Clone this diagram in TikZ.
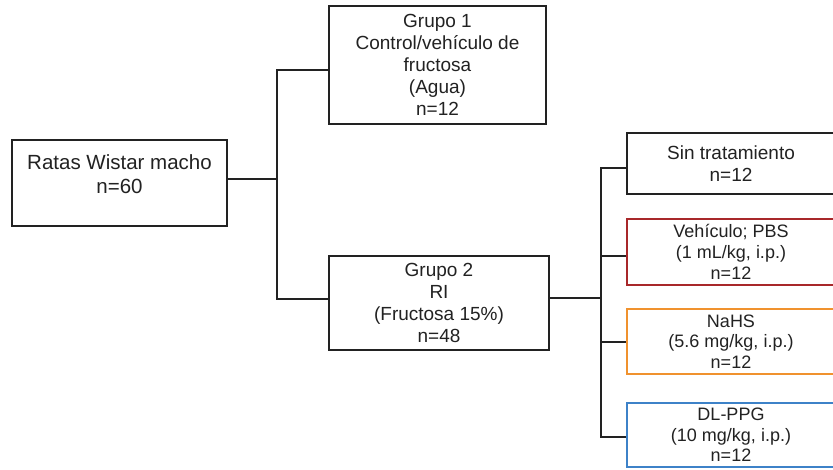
\documentclass[tikz,border=0pt]{standalone}
\usepackage{fontspec}
\setmainfont{Liberation Sans}
\definecolor{ink}{HTML}{222222}
\definecolor{redb}{HTML}{A8282A}
\definecolor{orab}{HTML}{F0922E}
\definecolor{blub}{HTML}{3D82C8}
\begin{document}
\begin{tikzpicture}[x=1pt,y=-1pt,
  box/.style={draw=ink, line width=2.6pt, rectangle, inner sep=0pt, align=center, text=ink},
  big/.style={font=\fontsize{20.5}{24}\selectfont},
  mid/.style={font=\fontsize{19}{22}\selectfont},
  sml/.style={font=\fontsize{18}{20.7}\selectfont},
  conn/.style={draw=ink, line width=2.6pt}]
\useasboundingbox (0,0) rectangle (833,470);
\clip (0,0) rectangle (833,470);
\fill[white] (0,0) rectangle (833,470);
\node[box,big,minimum width=215,minimum height=86] (ratas) at (119.5,183) {Ratas Wistar macho\\n=60\\[-6pt]};
\node[box,mid,minimum width=217,minimum height=118] (g1) at (437.5,65) {Grupo 1\\Control/vehículo de\\fructosa\\(Agua)\\n=12};
\node[box,mid,minimum width=220,minimum height=94] (g2) at (439,303) {Grupo 2\\RI\\(Fructosa 15\%)\\n=48};
\node[box,mid,minimum width=208,minimum height=61] (sin) at (731,163.5) {Sin tratamiento\\n=12};
\node[box,sml,draw=redb,line width=2.3pt,minimum width=208,minimum height=66] (veh) at (731,252) {Vehículo; PBS\\(1 mL/kg, i.p.)\\n=12};
\node[box,sml,draw=orab,line width=2.3pt,minimum width=208,minimum height=65] (nahs) at (731,341.5) {NaHS\\(5.6 mg/kg, i.p.)\\n=12};
\node[box,sml,draw=blub,line width=2.3pt,minimum width=208,minimum height=64] (dl) at (731,435) {DL-PPG\\(10 mg/kg, i.p.)\\n=12};
\coordinate (ja) at (277,70);
\coordinate (jm) at (277,179);
\coordinate (jb) at (277,299);
\coordinate (ka) at (601,168);
\coordinate (km) at (601,298);
\coordinate (kb) at (601,437);
\coordinate (kv) at (601,256);
\coordinate (kn) at (601,342);
\draw[conn] (jm -| ratas.east) -- (jm);
\draw[conn] (g1.west |- ja) -- (ja) -- (jb) -- (g2.west |- jb);
\draw[conn] (km -| g2.east) -- (km);
\draw[conn] (sin.west |- ka) -- (ka) -- (kb) -- (dl.west |- kb);
\draw[conn] (kv) -- (veh.west |- kv);
\draw[conn] (kn) -- (nahs.west |- kn);
\end{tikzpicture}
\end{document}
